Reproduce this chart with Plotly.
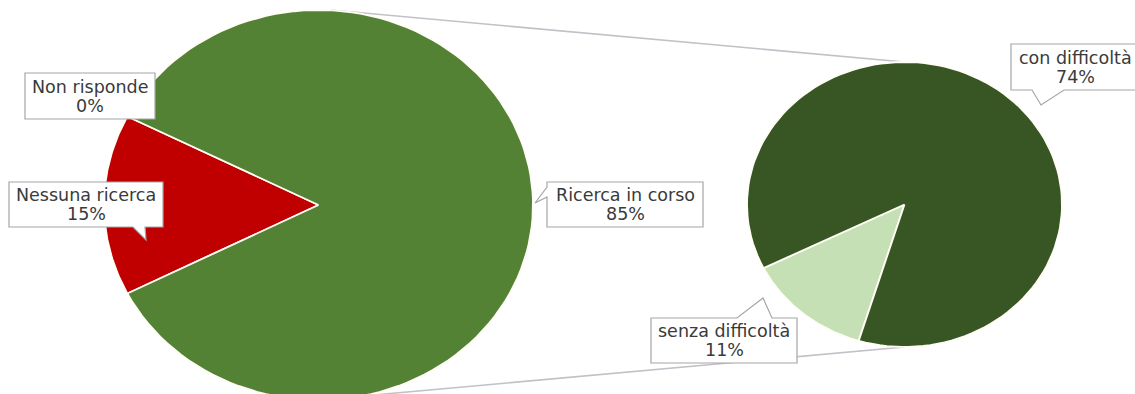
import numpy as np
import plotly.graph_objects as go

# First pie: answers about job search
main_labels = ["Non risponde", "Nessuna ricerca", "Ricerca in corso"]
main_values = [0, 15, 85]
main_colors = ["#7F7F7F", "#C00000", "#548235"]

# Second pie: breakdown of "Ricerca in corso"
sub_labels = ["senza difficoltà", "con difficoltà"]
sub_values = [11, 74]
sub_colors = ["#C5E0B4", "#375623"]

W, H = 1135, 394
TEXT = "#3A3A3A"
FONT = "DejaVu Sans"
FONT_SIZE = 17.5
LINE_GAP = 19

# pie geometry (canvas pixels, y downwards)
MAIN = dict(cx=318.5, cy=205, rx=214.5, ry=195)
SUB = dict(cx=904.5, cy=204.5, rx=157.5, ry=142.5)


def wedge(geo, a0, a1, n=120):
    t = np.radians(np.linspace(a0, a1, n))
    xs = np.concatenate([[geo["cx"]], geo["cx"] + geo["rx"] * np.cos(t), [geo["cx"]]])
    ys = np.concatenate([[geo["cy"]], geo["cy"] - geo["ry"] * np.sin(t), [geo["cy"]]])
    return xs, ys


def pie_traces(geo, labels, values, colors, start):
    total = float(sum(values))
    out = []
    a = start
    for lab, v, c in zip(labels, values, colors):
        span = 360.0 * v / total
        if span > 0:
            xs, ys = wedge(geo, a, a + span)
            out.append(go.Scatter(
                x=xs, y=ys, mode="lines", fill="toself", fillcolor=c,
                line=dict(color="#FFFDF5", width=1.8), name=lab,
                hoverinfo="name", showlegend=False))
        a += span
    return out


fig = go.Figure()

# connector lines between the pies (top and bottom)
for sgn in (-1, 1):
    fig.add_trace(go.Scatter(
        x=[MAIN["cx"] + (12 if sgn < 0 else 0), SUB["cx"]],
        y=[MAIN["cy"] + sgn * MAIN["ry"], SUB["cy"] + sgn * SUB["ry"]],
        mode="lines", line=dict(color="#C3C0C8", width=1.6),
        hoverinfo="skip", showlegend=False))

# first pie: "Ricerca in corso" is centred on the right side
main_start = 180 - 360.0 * main_values[1] / sum(main_values) / 2
for tr in pie_traces(MAIN, main_labels, main_values, main_colors, main_start):
    fig.add_trace(tr)

for tr in pie_traces(SUB, sub_labels, sub_values, sub_colors, 206.5):
    fig.add_trace(tr)

# callout boxes: (text, pct, box x0, y0, x1, y1, tail points)
callouts = [
    (main_labels[0], main_values[0], (25, 73, 155, 119), None),
    (main_labels[1], main_values[1], (9, 182, 163, 227),
     ("bottom", 133, 145, (146, 240))),
    (main_labels[2], main_values[2], (547, 182, 703, 227),
     ("left", 187, 197, (535, 203))),
    (sub_labels[0], sub_values[0], (651, 318, 797, 363),
     ("top", 737, 772, (763, 298))),
    (sub_labels[1], sub_values[1], (1011, 44, 1139, 90),
     ("bottom", 1032, 1064, (1041, 105))),
]

shapes = []
annotations = []
for lab, pct, (x0, y0, x1, y1), tail in callouts:
    pts = [(x0, y0)]
    if tail and tail[0] == "top":
        _, a, b, tip = tail
        pts += [(a, y0), tip, (b, y0)]
    pts.append((x1, y0))
    pts.append((x1, y1))
    if tail and tail[0] == "bottom":
        _, a, b, tip = tail
        pts += [(b, y1), tip, (a, y1)]
    pts.append((x0, y1))
    if tail and tail[0] == "left":
        _, a, b, tip = tail
        pts += [(x0, b), tip, (x0, a)]
    path = "M " + " L ".join(f"{px},{py}" for px, py in pts) + " Z"
    shapes.append(dict(type="path", path=path, xref="x", yref="y",
                       fillcolor="white", line=dict(color="#A6A6A6", width=1.2),
                       layer="above"))
    xc, yc = (x0 + x1) / 2, (y0 + y1) / 2
    for txt, dy in ((lab, -LINE_GAP / 2), (f"{pct}%", LINE_GAP / 2)):
        annotations.append(dict(
            x=xc, y=yc + dy, xref="x", yref="y",
            text=txt, showarrow=False, align="center",
            font=dict(family=FONT, size=FONT_SIZE, color=TEXT)))

fig.update_layout(
    width=W, height=H,
    margin=dict(l=0, r=0, t=0, b=0),
    paper_bgcolor="white", plot_bgcolor="white",
    xaxis=dict(range=[0, W], visible=False, fixedrange=True),
    yaxis=dict(range=[H, 0], visible=False, fixedrange=True),
    shapes=shapes, annotations=annotations,
)

fig.write_html("out.html")
